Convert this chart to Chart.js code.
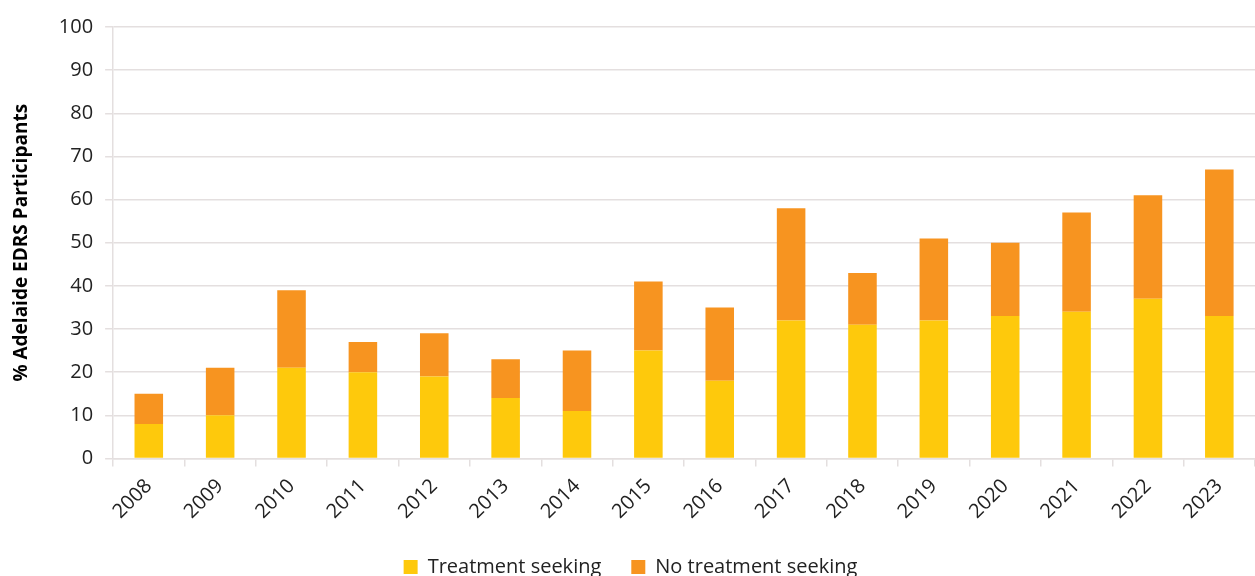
<!DOCTYPE html>
<html>
<head>
<meta charset="utf-8">
<script src="https://cdn.jsdelivr.net/npm/chart.js@4"></script>
<style>
  html, body { margin: 0; padding: 0; background: #ffffff; }
  #wrap { width: 1255px; height: 576px; position: relative; }
</style>
</head>
<body>
<div id="wrap"><canvas id="chart"></canvas></div>
<script>
const years = ["2008", "2009", "2010", "2011", "2012", "2013", "2014", "2015",
  "2016", "2017", "2018", "2019", "2020", "2021", "2022", "2023"];
const treatmentSeeking = [8, 10, 21, 20, 19, 14, 11, 25, 18, 32, 31, 32, 33, 34, 37, 33];
const noTreatmentSeeking = [7, 11, 18, 7, 10, 9, 14, 16, 17, 26, 12, 19, 17, 23, 24, 34];
const yTicks = [0, 10, 20, 30, 40, 50, 60, 70, 80, 90, 100];

const gridColor = "#e4dfdf";
const fontFamily = "'Open Sans', 'Noto Sans', sans-serif";

new Chart(document.getElementById("chart"), {
  type: "bar",
  data: {
    labels: years,
    datasets: [
      {
        label: "Treatment seeking",
        data: treatmentSeeking,
        backgroundColor: "#fec90c",
        borderWidth: 0,
        barPercentage: 0.8,
        categoryPercentage: 0.5
      },
      {
        label: "No treatment seeking",
        data: noTreatmentSeeking,
        backgroundColor: "#f79420",
        borderWidth: 0,
        barPercentage: 0.8,
        categoryPercentage: 0.5
      }
    ]
  },
  options: {
    responsive: true,
    maintainAspectRatio: false,
    animation: false,
    layout: {
      padding: { top: 27, right: 0, left: 6, bottom: -11 }
    },
    plugins: {
      legend: {
        position: "bottom",
        // blank title, used only to trim the legend box height
        title: {
          display: true,
          text: " ",
          font: { size: 1 },
          padding: { top: -6, bottom: 0 }
        },
        labels: {
          color: "#222222",
          boxWidth: 14,
          boxHeight: 14,
          padding: 30,
          font: { family: fontFamily, size: 20 }
        }
      },
      tooltip: { enabled: false }
    },
    scales: {
      x: {
        stacked: true,
        grid: {
          display: true,
          drawOnChartArea: false,
          drawTicks: true,
          tickLength: 8,
          color: gridColor,
          lineWidth: 1.5
        },
        border: { color: gridColor, width: 1.5 },
        ticks: {
          color: "#222222",
          maxRotation: 45,
          minRotation: 45,
          padding: 8,
          font: { family: fontFamily, size: 20 }
        }
      },
      y: {
        stacked: true,
        min: 0,
        max: 100,
        afterBuildTicks(scale) {
          scale.ticks = yTicks.map((v) => ({ value: v }));
        },
        grid: {
          color: gridColor,
          lineWidth: 1.5,
          tickLength: 8
        },
        border: { color: gridColor, width: 1.5 },
        ticks: {
          color: "#222222",
          padding: 12,
          font: { family: fontFamily, size: 20 }
        },
        title: {
          display: true,
          text: "% Adelaide EDRS Participants",
          color: "#000000",
          padding: { bottom: 14 },
          font: { family: fontFamily, size: 19, weight: "bold" }
        }
      }
    }
  }
});
</script>
</body>
</html>
